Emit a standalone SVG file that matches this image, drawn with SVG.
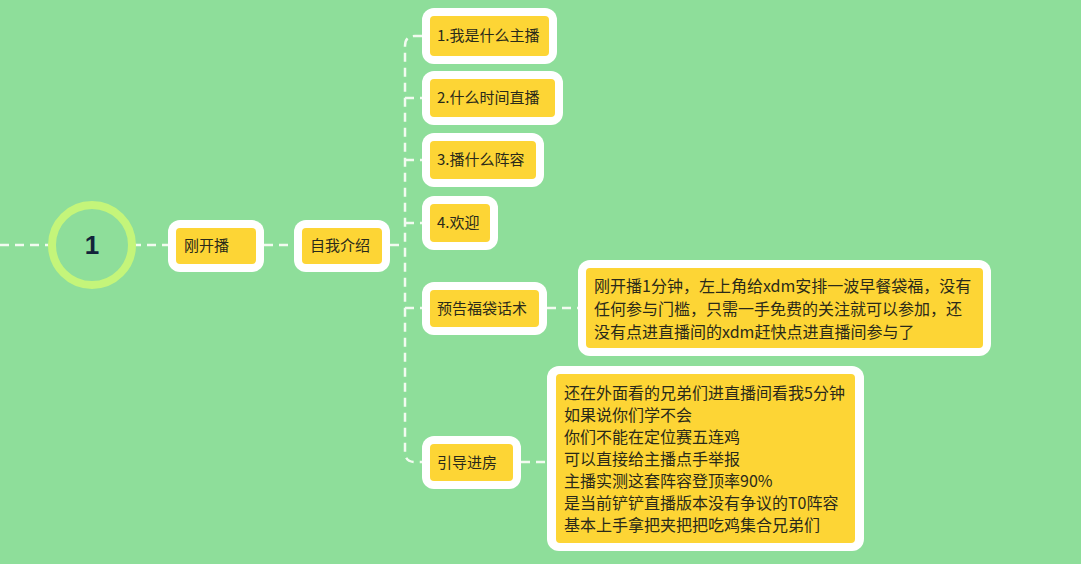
<svg xmlns="http://www.w3.org/2000/svg" width="1081" height="564" viewBox="0 0 1081 564">
<style>
.o{fill:#fff}
.i{fill:#FDD535}
.t{font-family:"Noto Sans CJK SC","Noto Sans",sans-serif;font-size:15px;fill:#2a2a1a}
.b{font-size:16px}
.c{fill:none;stroke:#F2FBF0;stroke-width:2.5;stroke-dasharray:9 6}
</style>
<rect width="1081" height="564" fill="#8EDE9A"/>
<g id="connectors">
<path class="c" d="M0 245H52M132 245H168M264 245H294M390 245H405"/>
<path class="c" d="M422 36H415Q405 36 405 46V452Q405 462 415 462H422"/>
<path class="c" d="M405 98H422M405 160H422M405 223H422M405 308H422M547 308H578M521 462H547"/>
</g>
<g id="n1"><circle cx="92" cy="245" r="40" fill="#8EDE9A" stroke="#C4F57A" stroke-width="8"/><text x="92" y="254" text-anchor="middle" font-family="Liberation Sans,sans-serif" font-size="26" font-weight="bold" fill="#13233a">1</text></g>
<g id="n2"><rect class="o" x="168" y="220" width="96" height="52" rx="12"/><rect class="i" x="176" y="228" width="80" height="36" rx="4"/><text class="t" x="184" y="251">刚开播</text></g>
<g id="n3"><rect class="o" x="294" y="220" width="96" height="52" rx="12"/><rect class="i" x="302" y="228" width="80" height="36" rx="4"/><text class="t" x="310" y="251">自我介绍</text></g>
<g id="n4"><rect class="o" x="422" y="8" width="135" height="56" rx="12"/><rect class="i" x="430" y="16" width="119" height="40" rx="4"/><text class="t" x="437" y="41">1.我是什么主播</text></g>
<g id="n5"><rect class="o" x="422" y="71" width="141" height="54" rx="12"/><rect class="i" x="430" y="79" width="125" height="38" rx="4"/><text class="t" x="437" y="103">2.什么时间直播</text></g>
<g id="n6"><rect class="o" x="422" y="133" width="122" height="54" rx="12"/><rect class="i" x="430" y="141" width="106" height="38" rx="4"/><text class="t" x="437" y="165">3.播什么阵容</text></g>
<g id="n7"><rect class="o" x="422" y="196" width="76" height="54" rx="12"/><rect class="i" x="430" y="204" width="60" height="38" rx="4"/><text class="t" x="437" y="228">4.欢迎</text></g>
<g id="n8"><rect class="o" x="422" y="282" width="125" height="53" rx="12"/><rect class="i" x="430" y="290" width="109" height="37" rx="4"/><text class="t" x="437" y="314">预告福袋话术</text></g>
<g id="n9"><rect class="o" x="422" y="436" width="99" height="53" rx="12"/><rect class="i" x="430" y="444" width="83" height="37" rx="4"/><text class="t" x="437" y="468">引导进房</text></g>
<g id="n10"><rect class="o" x="578" y="260" width="413" height="96" rx="12"/><rect class="i" x="586" y="268" width="397" height="80" rx="4"/>
<text class="t b"><tspan x="594" y="292">刚开播1分钟，左上角给xdm安排一波早餐袋福，没有</tspan><tspan x="594" y="315">任何参与门槛，只需一手免费的关注就可以参加，还</tspan><tspan x="594" y="338">没有点进直播间的xdm赶快点进直播间参与了</tspan></text></g>
<g id="n11"><rect class="o" x="547" y="366" width="317" height="185" rx="12"/><rect class="i" x="556" y="374" width="299" height="169" rx="4"/>
<text class="t b"><tspan x="564" y="399">还在外面看的兄弟们进直播间看我5分钟</tspan><tspan x="564" y="421">如果说你们学不会</tspan><tspan x="564" y="443">你们不能在定位赛五连鸡</tspan><tspan x="564" y="465">可以直接给主播点手举报</tspan><tspan x="564" y="487">主播实测这套阵容登顶率90%</tspan><tspan x="564" y="509">是当前铲铲直播版本没有争议的T0阵容</tspan><tspan x="564" y="531">基本上手拿把夹把把吃鸡集合兄弟们</tspan></text></g>
</svg>
